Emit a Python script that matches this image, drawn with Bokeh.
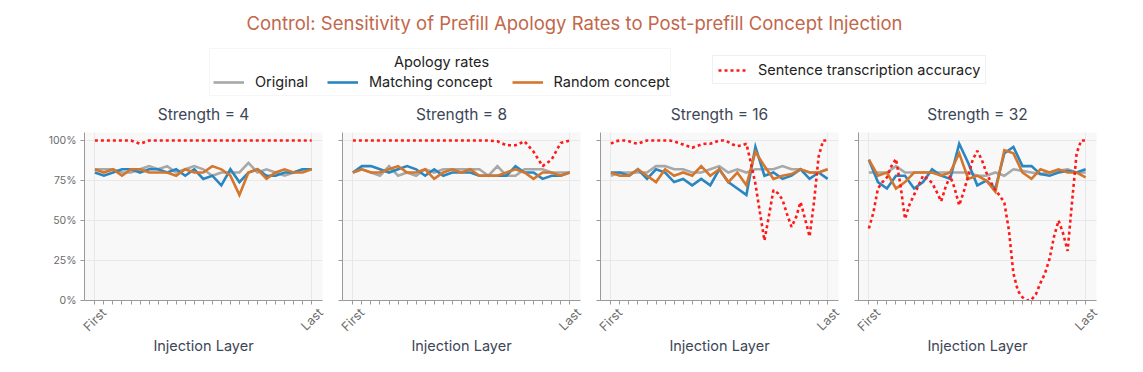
import math
from bokeh.plotting import figure
from bokeh.models import Range1d, FixedTicker, Legend, LegendItem, Label, BoxAnnotation
from bokeh.layouts import column, row
from bokeh.core.properties import value
from bokeh.embed import file_html
from bokeh.resources import INLINE

# ---------------- data ----------------
layers = list(range(25))
half_layers = [i / 2 for i in range(49)]
strengths = [4, 8, 16, 32]
x_tick_positions = [0, 24]
x_tick_labels = ["First", "Last"]
y_ticks = [0, 25, 50, 75, 100]
y_tick_labels = {0: "0%", 25: "25%", 50: "50%", 75: "75%", 100: "100%"}

s4_original = [82, 82, 82, 80, 80, 82, 84, 82, 84, 80, 82, 84, 82, 78, 80, 80, 80, 86, 80, 82, 80, 78, 80, 82, 82]
s4_matching = [80, 78, 80, 82, 82, 80, 82, 82, 80, 82, 78, 82, 76, 78, 72, 82, 74, 80, 82, 78, 78, 80, 80, 82, 82]
s4_random = [82, 80, 82, 78, 82, 82, 80, 80, 80, 78, 82, 80, 80, 84, 82, 78, 66, 80, 82, 76, 80, 82, 80, 80, 82]
s4_accuracy = [100, 100, 100, 100, 100, 98, 100, 100, 100, 100, 100, 100, 100, 100, 100, 100, 100, 100, 100, 100,
               100, 100, 100, 100, 100]

s8_original = [80, 82, 80, 78, 84, 78, 80, 78, 82, 80, 82, 82, 82, 82, 82, 78, 84, 78, 78, 82, 82, 82, 80, 80, 80]
s8_matching = [80, 84, 84, 82, 80, 82, 84, 82, 78, 82, 78, 80, 80, 80, 78, 78, 78, 78, 84, 80, 80, 76, 78, 78, 80]
s8_random = [80, 82, 80, 80, 82, 84, 80, 80, 82, 76, 80, 82, 80, 82, 78, 78, 78, 80, 82, 80, 76, 80, 80, 78, 80]
s8_accuracy = [100, 100, 100, 100, 100, 100, 100, 100, 100, 100, 100, 100, 100, 100, 100, 100, 99.5, 97, 97, 99.5,
               93, 84, 88, 98.5, 100]

s16_original = [78, 80, 80, 80, 80, 84, 84, 82, 82, 80, 80, 82, 84, 80, 82, 80, 82, 82, 82, 84, 82, 82, 80, 80, 82]
s16_matching = [80, 80, 78, 82, 76, 82, 80, 74, 76, 72, 76, 72, 82, 74, 70, 66, 96, 78, 80, 76, 78, 82, 76, 80, 76]
s16_random = [80, 78, 78, 82, 78, 74, 82, 78, 80, 78, 84, 78, 82, 74, 80, 72, 93, 84, 76, 78, 79, 82, 80, 80, 82]
s16_accuracy = [98, 99.5, 100, 100, 99.5, 98.5, 98, 99, 100, 100, 100, 100, 100, 100, 99.5, 98.5, 97.5, 96.5,
                95.5, 96.5, 97.5, 98, 98, 99, 100, 100, 99, 97.5, 96.5, 97, 98, 86, 73, 55, 37.5, 53, 69, 67,
                63, 54, 46, 52, 61.5, 51, 40, 62, 90, 100, 100]

s32_original = [80, 80, 80, 84, 80, 80, 80, 80, 80, 80, 80, 80, 78, 78, 80, 78, 82, 81, 80, 79, 80, 81, 82, 80, 80]
s32_matching = [88, 74, 70, 78, 78, 70, 74, 82, 78, 76, 98, 86, 72, 75, 70, 92, 96, 84, 84, 79, 78, 80, 81, 80, 82]
s32_random = [88, 78, 80, 70, 74, 80, 80, 80, 78, 80, 92, 76, 78, 75, 68, 94, 92, 80, 76, 82, 80, 82, 80, 80, 77]
s32_accuracy = [45, 55, 70, 74, 77, 84, 88.5, 72, 51, 60, 66, 72, 78, 76, 73.5, 68, 62, 71, 78, 70, 59.5, 68,
                78, 88, 93.5, 88, 80, 74, 69, 65.5, 61, 44, 17, 6, 2, 0, 0.5, 4, 11, 17, 26, 40, 50, 42, 31, 62,
                92, 100, 100]

panels = [
    (s4_original, s4_matching, s4_random, layers, s4_accuracy),
    (s8_original, s8_matching, s8_random, layers, s8_accuracy),
    (s16_original, s16_matching, s16_random, half_layers, s16_accuracy),
    (s32_original, s32_matching, s32_random, half_layers, s32_accuracy),
]

# ---------------- style ----------------
FONT = "Inter"
GREY = "#a8a8a8"
BLUE = "#2a86c1"
ORANGE = "#d4762c"
RED = "#ff1a1a"
TITLE_COLOR = "#c2674b"
DARK = "#3d4657"
TICK_COLOR = "#6b6b6b"
AXIS_COLOR = "#9a9a9a"
GRID_COLOR = "#e8e8e8"
LW = 2.6

FRAME_W = 238
FRAME_H = 168
FIRST_LEFT = 84        # left border of first panel (room for y labels)
GAP = 10               # border on each side of the other panels
LABEL_DX = 1.0         # shifts the rotated First/Last labels so they sit centred under their ticks


def make_panel(i, orig, match, rand, rx, racc):
    first = i == 0
    p = figure(frame_width=FRAME_W, frame_height=FRAME_H,
               x_range=Range1d(-1.15, 25.2), y_range=Range1d(0, 105),
               output_backend="svg", toolbar_location=None, title=None,
               min_border_left=FIRST_LEFT if first else GAP, min_border_right=GAP,
               min_border_top=8, min_border_bottom=4)
    p.background_fill_color = "#f8f8f8"
    p.border_fill_color = "white"
    p.outline_line_color = None

    p.line(layers, orig, color=GREY, line_width=LW, line_join="miter")
    p.line(layers, match, color=BLUE, line_width=LW, line_join="miter")
    p.line(layers, rand, color=ORANGE, line_width=LW, line_join="miter")
    p.line(rx, racc, color=RED, line_width=2.6, line_dash="3 3")

    xa = p.xaxis[0]
    label_ticks = [t + LABEL_DX for t in x_tick_positions]
    xa.ticker = FixedTicker(ticks=label_ticks, minor_ticks=layers)
    xa.major_label_overrides = dict(zip(label_ticks, x_tick_labels))
    xa.major_label_orientation = math.pi / 4
    xa.major_tick_line_color = None
    xa.major_label_text_font_size = "12.5px"
    xa.major_label_standoff = 6
    xa.axis_label = "Injection Layer"
    xa.axis_label_text_font = FONT
    xa.axis_label_text_font_size = "14.5px"
    xa.axis_label_text_font_style = "normal"
    xa.axis_label_text_color = DARK
    xa.axis_label_standoff = -5
    p.xgrid.ticker = FixedTicker(ticks=x_tick_positions)

    ya = p.yaxis[0]
    if first:
        ya.ticker = FixedTicker(ticks=y_ticks)
        ya.major_label_overrides = y_tick_labels
        ya.major_label_text_font_size = "10.5px"
        ya.major_label_standoff = 4
    else:
        ya.ticker = FixedTicker(ticks=[], minor_ticks=y_ticks)
    ya.major_tick_line_color = AXIS_COLOR
    p.ygrid.ticker = FixedTicker(ticks=y_ticks)

    for ax in (xa, ya):
        ax.axis_line_color = AXIS_COLOR
        ax.minor_tick_line_color = AXIS_COLOR
        ax.major_tick_in = 0
        ax.major_tick_out = 4
        ax.minor_tick_in = 0
        ax.minor_tick_out = 4
        ax.major_label_text_font = FONT
        ax.major_label_text_color = TICK_COLOR

    p.xgrid.grid_line_color = GRID_COLOR
    p.ygrid.grid_line_color = GRID_COLOR
    return p


figs = [make_panel(i, *panels[i]) for i in range(len(strengths))]

# ---------------- header (title, legends, panel titles) ----------------
HW, HH = 1127, 124
h = figure(width=HW, height=HH, x_range=Range1d(0, HW), y_range=Range1d(HH, 0),
           output_backend="svg", toolbar_location=None, min_border=0)
h.axis.visible = False
h.grid.visible = False
h.outline_line_color = None
h.background_fill_color = "white"
h.border_fill_color = "white"

h.text(x=[574], y=[22],
       text=["Control: Sensitivity of Prefill Apology Rates to Post-prefill Concept Injection"],
       text_font=value(FONT), text_font_size="18.5px", text_color=TITLE_COLOR,
       text_align="center", text_baseline="middle")

# panel titles, centred over each panel's plotting area
panel_centres = [FIRST_LEFT + FRAME_W / 2 + i * (FRAME_W + 2 * GAP) for i in range(len(strengths))]
h.text(x=panel_centres, y=[114] * len(strengths),
       text=[f"Strength = {s}" for s in strengths],
       text_font=value(FONT), text_font_size="15.5px", text_color=DARK,
       text_align="center", text_baseline="middle")

# legend proxies (their data lies outside the visible range)
rg = h.line([-100, -90], [-100, -100], color=GREY, line_width=LW)
rb = h.line([-100, -90], [-100, -100], color=BLUE, line_width=LW)
ro = h.line([-100, -90], [-100, -100], color=ORANGE, line_width=LW)
rr = h.line([-100, -90], [-100, -100], color=RED, line_width=2.6, line_dash="3 3")

# frame of the "Apology rates" legend, with its centred title
h.add_layout(BoxAnnotation(left=209, right=670, top=48, bottom=95,
                           fill_color="white", fill_alpha=1.0,
                           line_color="#e2e2e2", line_width=1, level="annotation"))

leg1 = Legend(items=[LegendItem(label="Original", renderers=[rg]),
                     LegendItem(label="Matching concept", renderers=[rb]),
                     LegendItem(label="Random concept", renderers=[ro])],
              orientation="horizontal", location=(213, 34))
leg1.padding = 5
leg1.spacing = 19
leg1.label_standoff = 11
leg1.glyph_width = 31
leg1.border_line_color = None
leg1.background_fill_alpha = 0

leg2 = Legend(items=[LegendItem(label="Sentence transcription accuracy", renderers=[rr])],
              orientation="horizontal", location=(712, 40))
leg2.padding = 5
leg2.label_standoff = 11
leg2.glyph_width = 29
leg2.border_line_color = "#e2e2e2"
leg2.background_fill_color = "white"

for lg in (leg1, leg2):
    lg.label_text_font = FONT
    lg.label_text_font_size = "14.5px"
    lg.label_text_color = "#222222"
    lg.glyph_height = 16
    lg.margin = 0
    h.add_layout(lg)

h.add_layout(Label(x=441, y=61, text="Apology rates", text_align="center", text_baseline="middle",
                   text_font=FONT, text_font_size="14.5px", text_color="#222222"))

layout = column(h, row(*figs))

with open("out.html", "w") as f:
    f.write(file_html(layout, INLINE))
